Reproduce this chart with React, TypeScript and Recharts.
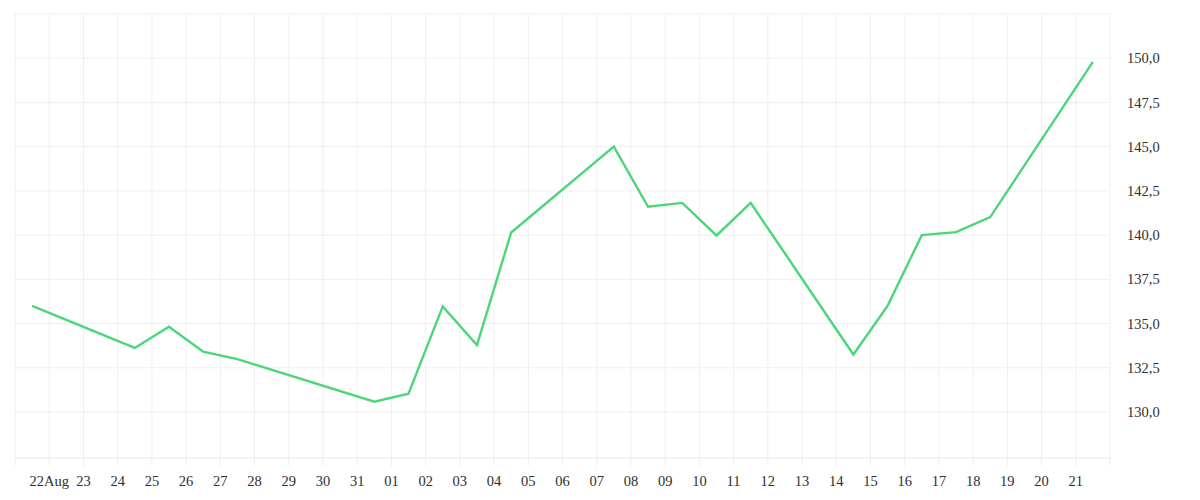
import React from "react";
import {
  LineChart,
  Line,
  XAxis,
  YAxis,
  CartesianGrid,
} from "recharts";

// tick labels along the time axis (one per day boundary, edges blank)
const tickLabels = [
  "", "22Aug", "23", "24", "25", "26", "27", "28", "29", "30", "31",
  "01", "02", "03", "04", "05", "06", "07", "08", "09", "10", "11",
  "12", "13", "14", "15", "16", "17", "18", "19", "20", "21", "",
];

const pointDates = [
  "08-21", "08-24", "08-25", "08-26", "08-27", "08-31", "09-01",
  "09-02", "09-03", "09-04", "09-07", "09-08", "09-09", "09-10",
  "09-11", "09-14", "09-15", "09-16", "09-17", "09-18", "09-21",
];

const prices = [
  136.0, 133.62, 134.82, 133.41, 132.99, 130.58, 131.03,
  135.97, 133.78, 140.15, 145.0, 141.6, 141.82, 139.98,
  141.82, 133.25, 136.0, 140.0, 140.17, 141.02, 149.79,
];

const priceTicks = [130, 132.5, 135, 137.5, 140, 142.5, 145, 147.5, 150, 152.5];

const GRID = "#efefef";
const LINE = "#4cd67a";
const TEXT = "#2f2f2f";
const FONT = 14.5;

const dayIndex = (md: string) => {
  const [m, d] = md.split("-").map(Number);
  return (Date.UTC(2023, m - 1, d) - Date.UTC(2023, 7, 21)) / 86400000;
};

const data = pointDates.map((d, i) => ({
  x: dayIndex(d) + 0.5,
  price: prices[i],
}));

const xTicks = tickLabels.map((_, i) => i);

export default function App() {
  return (
    <div style={{ position: "absolute", left: 0, top: 0, width: 1200, height: 500 }}>
      <LineChart
        width={1200}
        height={500}
        data={data}
        margin={{ top: 14, right: 0, bottom: 0, left: 15 }}
      >
        <CartesianGrid stroke={GRID} />
        <XAxis
          dataKey="x"
          type="number"
          domain={[0, tickLabels.length - 1]}
          ticks={xTicks}
          interval={0}
          height={42}
          tickSize={8}
          tickMargin={10}
          axisLine={{ stroke: GRID }}
          tickLine={{ stroke: GRID }}
          tick={{ fill: TEXT, fontSize: FONT }}
          tickFormatter={(v: number) => tickLabels[v] ?? ""}
        />
        <YAxis
          orientation="right"
          width={90}
          domain={[127.4, 152.5]}
          ticks={priceTicks}
          allowDataOverflow
          axisLine={false}
          tickLine={false}
          tickMargin={11}
          tick={{ fill: TEXT, fontSize: FONT }}
          tickFormatter={(v: number) =>
            v > 150 ? "" : v.toFixed(1).replace(".", ",")
          }
        />
        <Line
          dataKey="price"
          stroke={LINE}
          strokeWidth={2.4}
          dot={false}
          isAnimationActive={false}
        />
      </LineChart>
    </div>
  );
}
